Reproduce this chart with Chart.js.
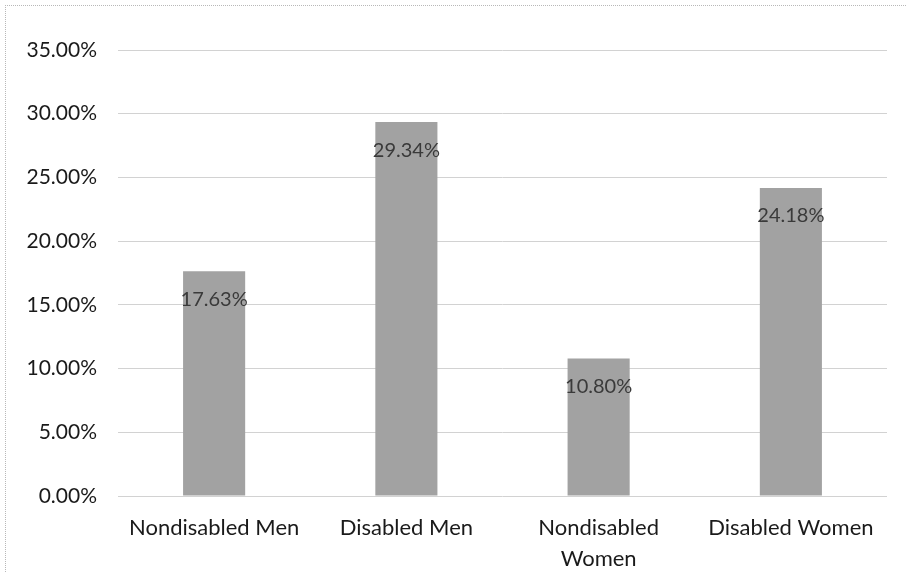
<!DOCTYPE html>
<html>
<head>
<meta charset="utf-8">
<script src="https://cdn.jsdelivr.net/npm/chart.js@4.4.1/dist/chart.umd.min.js"></script>
<style>
  html, body { margin: 0; padding: 0; background: #fff; }
  #wrap { position: relative; width: 906px; height: 572px; }
  #frame { position: absolute; left: 5px; top: 5px; width: 920px; height: 600px;
           border-left: 1px dotted #b8b8b8; border-top: 1px dotted #b8b8b8; }
  canvas { position: absolute; left: 0; top: 0; }
</style>
</head>
<body>
<div id="wrap">
  <div id="frame"></div>
  <canvas id="c" width="906" height="572"></canvas>
</div>
<script>
const categories = [["Nondisabled Men"], ["Disabled Men"], ["Nondisabled", "Women"], ["Disabled Women"]];
const values = [17.63, 29.34, 10.80, 24.18];
const yTicks = [0, 5, 10, 15, 20, 25, 30, 35];

const labelPlugin = {
  id: 'insideLabels',
  afterDatasetsDraw(chart) {
    const ctx = chart.ctx;
    const meta = chart.getDatasetMeta(0);
    ctx.save();
    ctx.font = '20px Lato';
    ctx.fillStyle = '#3a3a3a';
    ctx.textAlign = 'center';
    ctx.textBaseline = 'middle';
    meta.data.forEach((bar, i) => {
      ctx.fillText(values[i].toFixed(2) + '%', bar.x, bar.y + 28);
    });
    ctx.restore();
  }
};

new Chart(document.getElementById('c'), {
  type: 'bar',
  data: {
    labels: categories,
    datasets: [{
      data: values,
      backgroundColor: '#a2a2a2',
      borderWidth: 0,
      categoryPercentage: 1,
      barPercentage: 0.323
    }]
  },
  options: {
    responsive: false,
    animation: false,
    devicePixelRatio: 1,
    layout: { padding: { left: 0, right: 19, top: 50, bottom: 0 } },
    plugins: { legend: { display: false }, tooltip: { enabled: false } },
    scales: {
      x: {
        grid: { display: false, drawTicks: false },
        border: { display: false },
        ticks: { color: '#1a1a1a', font: { family: 'Lato', size: 22, lineHeight: 1.38 }, padding: 17, maxRotation: 0, autoSkip: false },
        afterFit: s => { s.height = 76; }
      },
      y: {
        min: 0, max: 35,
        afterBuildTicks: s => { s.ticks = yTicks.map(v => ({ value: v })); },
        grid: { color: '#d2d2d2', lineWidth: 1, drawTicks: false },
        border: { display: false },
        ticks: { color: '#1a1a1a', font: { family: 'Lato', size: 21 }, padding: 21,
                 callback: v => Number(v).toFixed(2) + '%' },
        afterFit: s => { s.width = 118; }
      }
    }
  },
  plugins: [labelPlugin]
});
</script>
</body>
</html>
